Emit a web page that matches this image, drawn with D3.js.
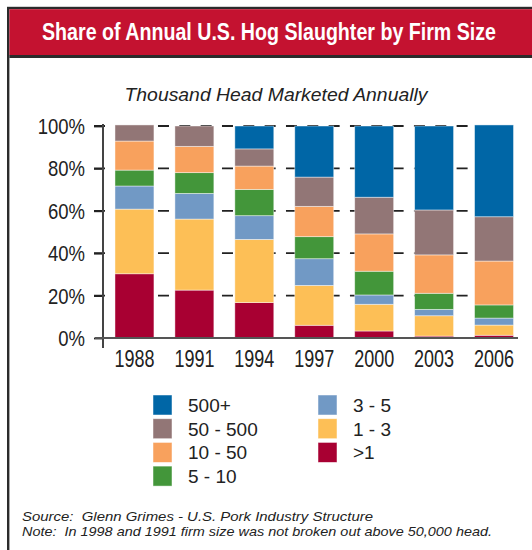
<!DOCTYPE html>
<html>
<head>
<meta charset="utf-8">
<script src="https://cdn.jsdelivr.net/npm/d3@7"></script>
<style>
  body { margin: 0; background: #fff; }
  svg { display: block; }
</style>
</head>
<body>
<div id="chart"></div>
<script>
// firm size shares (percent of annual slaughter), bottom segment first
const years = ['1988', '1991', '1994', '1997', '2000', '2003', '2006'];
const sizeGroups = ['>1', '1 - 3', '3 - 5', '5 - 10', '10 - 50', '50 - 500', '500+'];
const under1 = [30.3, 22.6, 16.7, 6.0, 3.3, 0.9, 1.3];
const from1to3 = [30.5, 33.5, 29.8, 18.8, 12.6, 9.6, 4.8];
const from3to5 = [10.9, 12.1, 11.2, 12.6, 4.4, 3.0, 3.3];
const from5to10 = [7.5, 9.8, 12.4, 10.4, 11.2, 7.6, 6.2];
const from10to50 = [13.7, 12.4, 11.0, 14.3, 17.6, 18.1, 20.7];
const from50to500 = [7.6, 9.6, 8.1, 13.8, 17.3, 21.2, 20.9];
const over500 = [0, 0, 10.8, 24.1, 33.6, 39.6, 43.3];
const yTicks = [0, 20, 40, 60, 80, 100];
const legendCol1 = ['500+', '50 - 500', '10 - 50', '5 - 10'];
const legendCol2 = ['3 - 5', '1 - 3', '>1'];

const colors = {
  '>1': '#a80032',
  '1 - 3': '#fdbf56',
  '3 - 5': '#7199c5',
  '5 - 10': '#43963a',
  '10 - 50': '#f8a15d',
  '50 - 500': '#927676',
  '500+': '#0066a6'
};

const seriesVals = [under1, from1to3, from3to5, from5to10, from10to50, from50to500, over500];
const table = years.map((yr, i) => {
  const row = { year: yr };
  sizeGroups.forEach((g, j) => { row[g] = seriesVals[j][i]; });
  return row;
});

const W = 532, H = 550;
const svg = d3.select('#chart').append('svg').attr('width', W).attr('height', H);

const sans = '"Liberation Sans", Arial, sans-serif';

// frame + title bar
svg.append('rect')
  .attr('x', 8.2).attr('y', 8)
  .attr('width', 540).attr('height', 560)
  .attr('fill', 'none').attr('stroke', '#2b2b2b').attr('stroke-width', 2.4);
svg.append('rect')
  .attr('x', 9.4).attr('y', 9.2)
  .attr('width', W).attr('height', 46)
  .attr('fill', '#c41230');
svg.append('line')
  .attr('x1', 9.4).attr('x2', W).attr('y1', 56.6).attr('y2', 56.6)
  .attr('stroke', '#2b2b2b').attr('stroke-width', 3);
// condensed-looking title: smaller font stretched vertically
svg.append('text')
  .attr('transform', 'translate(269,40) scale(1,1.3)')
  .attr('text-anchor', 'middle')
  .attr('textLength', 454).attr('lengthAdjust', 'spacingAndGlyphs')
  .style('font-family', sans).style('font-size', '18px').style('font-weight', 'bold')
  .attr('fill', '#fff')
  .text('Share of Annual U.S. Hog Slaughter by Firm Size');

svg.append('text')
  .attr('x', 276).attr('y', 101)
  .attr('text-anchor', 'middle')
  .attr('textLength', 303).attr('lengthAdjust', 'spacingAndGlyphs')
  .style('font-family', sans).style('font-size', '19px').style('font-style', 'italic')
  .attr('fill', '#222')
  .text('Thousand Head Marketed Annually');

// scales
const x = d3.scaleBand().domain(years).range([103, 525.5]).paddingInner(0.35).paddingOuter(0.2);
const y = d3.scaleLinear().domain([0, 100]).range([338, 126]);

// dashed gridlines behind bars
svg.append('g')
  .selectAll('line')
  .data(yTicks.filter(d => d > 0))
  .join('line')
  .attr('x1', 94).attr('x2', 514)
  .attr('y1', d => y(d)).attr('y2', d => y(d))
  .attr('stroke', '#222').attr('stroke-width', 1.8)
  .attr('stroke-dasharray', '11,10.33');

// stacked bars
const stack = d3.stack().keys(sizeGroups)(table);
svg.append('g')
  .selectAll('g')
  .data(stack)
  .join('g')
  .attr('fill', d => colors[d.key])
  .selectAll('rect')
  .data(d => d)
  .join('rect')
  .attr('x', d => x(d.data.year))
  .attr('width', x.bandwidth())
  .attr('y', d => y(d[1]))
  .attr('height', d => y(d[0]) - y(d[1]))
  .attr('stroke', 'rgba(255,255,255,0.55)').attr('stroke-width', 0.8);

// axes
const yAxis = d3.axisLeft(y).tickValues(yTicks).tickFormat(d => d + '%').tickSize(9).tickPadding(9);
const gy = svg.append('g').attr('transform', 'translate(103,0)').call(yAxis);
gy.select('.domain').remove();
gy.selectAll('.tick line').attr('stroke', '#222').attr('stroke-width', 1.8);
gy.selectAll('.tick text')
  .attr('x', null).attr('dy', null)
  .attr('transform', 'translate(-18,7.4) scale(1,1.18)')
  .style('font-family', sans).style('font-size', '18.5px').attr('fill', '#222');

svg.append('line')
  .attr('x1', 103).attr('x2', 103).attr('y1', 124).attr('y2', 348)
  .attr('stroke', '#444').attr('stroke-width', 2);
svg.append('line')
  .attr('x1', 95).attr('x2', 518).attr('y1', 338).attr('y2', 338)
  .attr('stroke', '#555').attr('stroke-width', 2);

const xAxis = d3.axisBottom(x).tickSize(0).tickPadding(0);
const gx = svg.append('g').attr('transform', 'translate(0,338)').call(xAxis);
gx.select('.domain').remove();
gx.selectAll('.tick text')
  .attr('y', null).attr('dy', null)
  .attr('transform', 'translate(0,28.5) scale(1,1.3)')
  .style('font-family', sans).style('font-size', '18px').attr('fill', '#222');

// legend
function legendColumn(items, x0) {
  const g = svg.append('g').selectAll('g')
    .data(items)
    .join('g')
    .attr('transform', (d, i) => `translate(${x0},${395 + i * 23.7})`);
  g.append('rect')
    .attr('width', 19).attr('height', 20)
    .attr('fill', d => colors[d])
    .attr('stroke', 'rgba(255,255,255,0.6)').attr('stroke-width', 0.8);
  g.append('text')
    .attr('x', 35).attr('y', 17)
    .style('font-family', sans).style('font-size', '19px')
    .attr('fill', '#222')
    .text(d => d);
}
legendColumn(legendCol1, 153);
legendColumn(legendCol2, 318);

// footnotes
svg.append('text')
  .attr('x', 22).attr('y', 520.5)
  .attr('textLength', 351).attr('lengthAdjust', 'spacingAndGlyphs')
  .style('font-family', sans).style('font-size', '13.5px').style('font-style', 'italic')
  .attr('fill', '#222')
  .attr('xml:space', 'preserve')
  .text('Source:  Glenn Grimes - U.S. Pork Industry Structure');
svg.append('text')
  .attr('x', 22).attr('y', 535.5)
  .attr('textLength', 470).attr('lengthAdjust', 'spacingAndGlyphs')
  .style('font-family', sans).style('font-size', '13.5px').style('font-style', 'italic')
  .attr('fill', '#222')
  .attr('xml:space', 'preserve')
  .text('Note:  In 1998 and 1991 firm size was not broken out above 50,000 head.');
</script>
</body>
</html>
